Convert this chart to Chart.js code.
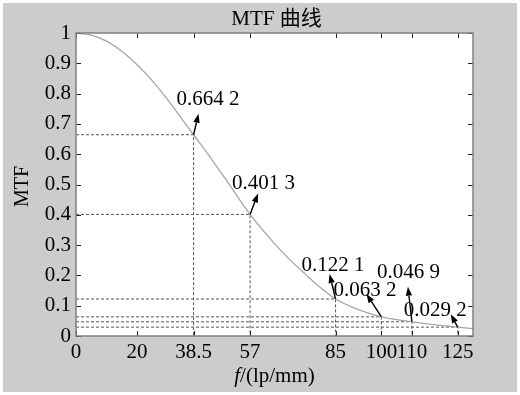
<!DOCTYPE html>
<html>
<head>
<meta charset="utf-8">
<script src="https://cdn.jsdelivr.net/npm/chart.js@4/dist/chart.umd.min.js"></script>
<style>
  html, body { margin: 0; padding: 0; background: #ffffff; }
  #wrap { position: absolute; left: 3px; top: 3px; width: 514px; height: 389px; background: #cccccc; }
  canvas { display: block; }
</style>
</head>
<body>
<div id="wrap"><canvas id="c" width="514" height="389"></canvas></div>
<script>
// MTF curve samples: spatial frequency (lp/mm) and modulation
const freq = [0, 5, 10, 15, 20, 25, 30, 35, 38.5, 45, 50, 57, 65, 70, 75, 80, 85, 90, 95, 100, 105, 110, 115, 120, 125, 130];
const mtf  = [1.000, 0.993, 0.973, 0.940, 0.895, 0.842, 0.780, 0.712, 0.6642, 0.575, 0.503, 0.4013, 0.305, 0.252, 0.205, 0.160, 0.1221, 0.097, 0.078, 0.0632, 0.054, 0.0469, 0.040, 0.034, 0.0292, 0.024];

// Marked frequencies and their MTF values
const markFreq = [38.5, 57, 85, 100, 110, 125];
const markMTF  = [0.6642, 0.4013, 0.1221, 0.0632, 0.0469, 0.0292];
const markText = ['0.664 2', '0.401 3', '0.122 1', '0.063 2', '0.046 9', '0.029 2'];

// Axis ticks
const xTickValues = [0, 20, 38.5, 57, 85, 100, 110, 125];
const yTickValues = [0, 0.1, 0.2, 0.3, 0.4, 0.5, 0.6, 0.7, 0.8, 0.9, 1];

const SERIF = '"Liberation Serif", "Times New Roman", serif';
const CJK = '"Liberation Serif", "Noto Sans CJK SC", serif';

// Arrow head and label placement (pixels) relative to each marked point
const arrowLayout = [
  { hx: 5,  hy: -21, tx: -17, ty: -35 },
  { hx: 8,  hy: -21, tx: -18, ty: -31 },
  { hx: -6, hy: -25, tx: -34, ty: -34 },
  { hx: -15, hy: -23, tx: -48, ty: -26 },
  { hx: -4, hy: -35, tx: -35, ty: -49 },
  { hx: -7, hy: -13, tx: -54, ty: -17 }
];

const curve = {
  label: 'MTF',
  data: freq.map((f, i) => ({ x: f, y: mtf[i] })),
  borderColor: '#a6a6a6',
  borderWidth: 1.3,
  pointRadius: 0,
  cubicInterpolationMode: 'monotone',
  fill: false,
  order: 0
};

const guides = markFreq.map((f, i) => ({
  label: 'guide' + i,
  data: [{ x: 0, y: markMTF[i] }, { x: f, y: markMTF[i] }, { x: f, y: 0 }],
  borderColor: '#555555',
  borderWidth: 1,
  borderDash: [3, 2],
  pointRadius: 0,
  tension: 0,
  fill: false,
  order: 1
}));

const plotDecor = {
  id: 'plotDecor',
  beforeDraw(chart) {
    const { ctx, chartArea: a } = chart;
    ctx.save();
    ctx.fillStyle = '#ffffff';
    ctx.fillRect(a.left, a.top, a.right - a.left, a.bottom - a.top);
    ctx.restore();
  },
  afterDatasetsDraw(chart) {
    const { ctx, chartArea: a, scales } = chart;
    const xs = scales.x, ys = scales.y;
    ctx.save();
    // inward tick marks on all four sides
    ctx.strokeStyle = '#222222';
    ctx.lineWidth = 1;
    ctx.beginPath();
    xTickValues.forEach(v => {
      const px = Math.round(xs.getPixelForValue(v)) + 0.5;
      ctx.moveTo(px, a.bottom); ctx.lineTo(px, a.bottom - 5);
      ctx.moveTo(px, a.top); ctx.lineTo(px, a.top + 5);
    });
    yTickValues.forEach(v => {
      const py = Math.round(ys.getPixelForValue(v)) + 0.5;
      ctx.moveTo(a.left, py); ctx.lineTo(a.left + 5, py);
      ctx.moveTo(a.right, py); ctx.lineTo(a.right - 5, py);
    });
    ctx.stroke();
    // axes box
    ctx.strokeStyle = '#808080';
    ctx.lineWidth = 1.5;
    ctx.strokeRect(a.left, a.top, a.right - a.left, a.bottom - a.top);

    // arrows and value labels
    ctx.fillStyle = '#000000';
    ctx.strokeStyle = '#000000';
    ctx.font = '21px ' + SERIF;
    ctx.textBaseline = 'middle';
    ctx.textAlign = 'left';
    markFreq.forEach((f, i) => {
      const px = xs.getPixelForValue(f);
      const py = ys.getPixelForValue(markMTF[i]);
      const L = arrowLayout[i];
      const hx = px + L.hx, hy = py + L.hy;
      const ang = Math.atan2(hy - py, hx - px);
      const len = 9, wid = 3.2;
      const bx = hx - len * Math.cos(ang), by = hy - len * Math.sin(ang);
      ctx.lineWidth = 1.4;
      ctx.beginPath();
      ctx.moveTo(px, py);
      ctx.lineTo(bx, by);
      ctx.stroke();
      ctx.beginPath();
      ctx.moveTo(hx, hy);
      ctx.lineTo(bx + wid * Math.sin(ang), by - wid * Math.cos(ang));
      ctx.lineTo(bx - wid * Math.sin(ang), by + wid * Math.cos(ang));
      ctx.closePath();
      ctx.fill();
      ctx.fillText(markText[i], px + L.tx, py + L.ty);
    });

    // title and axis titles
    const cx = (a.left + a.right) / 2;
    ctx.textAlign = 'center';
    ctx.font = '21px ' + CJK;
    ctx.fillText('MTF 曲线', cx + 2, 16);

    ctx.save();
    ctx.translate(20, (a.top + a.bottom) / 2 + 2);
    ctx.rotate(-Math.PI / 2);
    ctx.font = '20px ' + SERIF;
    ctx.fillText('MTF', 0, 0);
    ctx.restore();

    // x-axis title with italic f
    const yT = 373;
    ctx.font = 'italic 21px ' + SERIF;
    const fw = ctx.measureText('f').width;
    ctx.font = '21px ' + SERIF;
    const rest = '/(lp/mm)';
    const rw = ctx.measureText(rest).width;
    const x0 = cx - (fw + rw) / 2;
    ctx.textAlign = 'left';
    ctx.font = 'italic 21px ' + SERIF;
    ctx.fillText('f', x0, yT);
    ctx.font = '21px ' + SERIF;
    ctx.fillText(rest, x0 + fw, yT);
    ctx.restore();
  }
};

new Chart(document.getElementById('c'), {
  type: 'line',
  data: { datasets: [curve, ...guides] },
  options: {
    responsive: false,
    animation: false,
    layout: { padding: { top: 30, right: 44, left: 0, bottom: 0 } },
    plugins: { legend: { display: false }, title: { display: false }, tooltip: { enabled: false } },
    scales: {
      x: {
        type: 'linear', min: 0, max: 130,
        grid: { display: false, drawTicks: false },
        border: { display: false },
        afterBuildTicks: s => { s.ticks = xTickValues.map(v => ({ value: v })); },
        afterFit: s => { s.height = 56; },
        ticks: {
          autoSkip: false, maxRotation: 0, minRotation: 0, padding: 4,
          color: '#000000', font: { family: SERIF, size: 21 },
          callback: v => String(v)
        }
      },
      y: {
        type: 'linear', min: 0, max: 1,
        grid: { display: false, drawTicks: false },
        border: { display: false },
        afterBuildTicks: s => { s.ticks = yTickValues.map(v => ({ value: v })); },
        afterFit: s => { s.width = 73; },
        ticks: {
          autoSkip: false, padding: 5,
          color: '#000000', font: { family: SERIF, size: 21 },
          callback: v => String(Math.round(v * 10) / 10)
        }
      }
    }
  },
  plugins: [plotDecor]
});
</script>
</body>
</html>
